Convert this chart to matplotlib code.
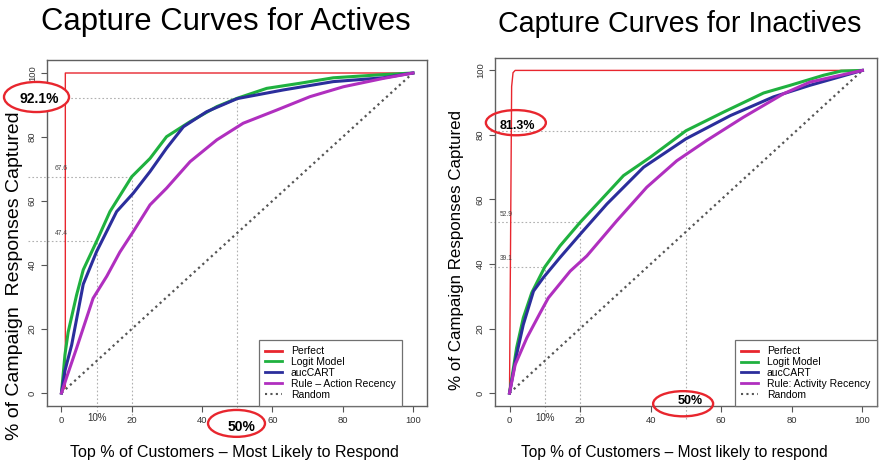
import matplotlib
matplotlib.use("Agg")
import matplotlib.pyplot as plt
from matplotlib.lines import Line2D
from matplotlib.patches import Ellipse

plt.rcParams["font.family"] = ["Liberation Sans", "DejaVu Sans"]

# ---- Actives: cumulative % of responses captured vs % of customers contacted
act_perfect_x = [0, 1.1, 1.1, 100]
act_perfect_y = [0, 2, 100, 100]
act_logit_x = [0, 1, 1.9, 4.3, 6.2, 10, 13.8, 20, 25.2, 29.9, 36.6, 44.2, 50, 58.4, 67.9, 77.3, 91.5, 100]
act_logit_y = [0, 12, 19, 30.6, 38.5, 47.4, 56.7, 67.6, 73.3, 80.1, 84.8, 89.5, 92.1, 95.2, 96.8, 98.5, 99.5, 100]
act_cart_x = [0, 1, 2.9, 6.2, 10, 15.7, 20.4, 25.2, 29.9, 34.7, 41.3, 50, 63.1, 77.3, 91.5, 100]
act_cart_y = [0, 7, 15, 34, 44.2, 56.7, 62.4, 69.2, 76.5, 83.2, 87.9, 92, 94.7, 97.3, 98.5, 100]
act_rule_x = [0, 1.5, 4.3, 9, 12.9, 16.6, 20.4, 25.2, 29.9, 36.6, 44.2, 51.7, 61.2, 70.7, 80.2, 91.5, 100]
act_rule_y = [0, 5, 14, 29.6, 36.5, 44, 50.4, 58.8, 64, 72.3, 79.1, 84.3, 88.4, 92.6, 95.7, 98.3, 100]
act_cut_x = [10, 20, 50]
act_cut_y = [47.4, 67.6, 92.1]

# ---- Inactives
ina_perfect_x = [0, 0.6, 1.0, 1.6, 100]
ina_perfect_y = [0, 95, 99.3, 100, 100]
ina_logit_x = [0, 2, 3.9, 6.3, 10, 14.3, 20, 25.7, 32.3, 39.9, 50, 60.7, 72, 79.6, 89, 94, 100]
ina_logit_y = [0, 14, 23.3, 31.1, 39.1, 45.6, 52.9, 59.6, 67.4, 73.1, 81.3, 87.1, 93, 95.4, 98.5, 99.8, 100]
ina_cart_x = [0, 2, 3.9, 6.8, 9.6, 14.3, 20, 27.6, 38, 50, 62.6, 74.8, 85.2, 100]
ina_cart_y = [0, 11.9, 21.2, 31.6, 35.8, 42, 49.2, 58.6, 70, 78.8, 86, 91.8, 95.4, 100]
ina_rule_x = [0, 1.6, 4.9, 8.7, 11, 17.2, 21.9, 30.4, 38.9, 47.4, 55.9, 66.3, 77.7, 85.2, 100]
ina_rule_y = [0, 8.8, 17.1, 24.9, 29.5, 37.8, 42.5, 53.4, 63.8, 72, 78.3, 85.5, 92.8, 96.4, 100]
ina_cut_x = [10, 20, 50]
ina_cut_y = [39.1, 52.9, 81.3]

random_xy = [0, 100]
ticks = [0, 20, 40, 60, 80, 100]

RED = "#e8262e"
GREEN = "#1fb13f"
BLUE = "#2b2e9c"
MAGENTA = "#b02fbf"
GUIDE = "#b0b0b0"

W, H = 880, 462
fig = plt.figure(figsize=(8.8, 4.62), dpi=100)


def px_rect(x0, y0, x1, y1):
    return [x0 / W, 1 - y1 / H, (x1 - x0) / W, (y1 - y0) / H]


def panel(rect, curves, labels, cuts, guide_left, ylab, ylab_size, ylab_xy, title, title_size, title_xy,
          xlab, xlab_size, xlab_xy, legend_anchor):
    ax = fig.add_axes(rect)
    ax.set_xlim(-4, 104)
    ax.set_ylim(-4, 104)
    (px, py), (lx, ly), (cx, cy), (rx, ry) = curves
    ax.plot(px, py, color=RED, lw=1.0, zorder=3)
    ax.plot(lx, ly, color=GREEN, lw=2.2, zorder=4)
    ax.plot(cx, cy, color=BLUE, lw=2.2, zorder=4)
    ax.plot(rx, ry, color=MAGENTA, lw=2.2, zorder=4)
    ax.plot(random_xy, random_xy, color="#555555", lw=1.6, ls=(0, (1, 1.6)), zorder=3)

    # guide segments at 10%, 20% and 50% depth
    for gx, gy in zip(*cuts):
        ax.plot([gx, gx], [-8, gy], color=GUIDE, lw=0.8, ls=(0, (1.5, 2)), clip_on=False, zorder=1)
        ax.plot([guide_left, gx], [gy, gy], color=GUIDE, lw=0.8, ls=(0, (1.5, 2)), clip_on=False, zorder=1)

    ax.set_xticks(ticks)
    ax.set_yticks(ticks)
    ax.tick_params(direction="out", length=4.5, width=0.8, color="#555555", labelsize=6.8,
                   labelcolor="#333333", pad=3)
    for t in ax.get_yticklabels():
        t.set_rotation(90)
        t.set_va("center")
    for s in ax.spines.values():
        s.set_color("#606060")
        s.set_linewidth(1.0)

    handles = [
        Line2D([], [], color=RED, lw=2),
        Line2D([], [], color=GREEN, lw=2),
        Line2D([], [], color=BLUE, lw=2),
        Line2D([], [], color=MAGENTA, lw=2),
        Line2D([], [], color="#555555", lw=1.5, ls=(0, (1, 1.6))),
    ]
    leg = ax.legend(handles, labels, loc="lower right", bbox_to_anchor=legend_anchor, fontsize=7.5,
                    frameon=True, fancybox=False, edgecolor="#707070", framealpha=1,
                    handlelength=1.6, handletextpad=0.9, labelspacing=0.08, borderpad=0.6,
                    borderaxespad=0)
    leg.get_frame().set_linewidth(0.9)
    leg.set_zorder(5)

    fig.text(title_xy[0] / W, 1 - title_xy[1] / H, title, fontsize=title_size, ha="center", va="center")
    fig.text(ylab_xy[0] / W, 1 - ylab_xy[1] / H, ylab, fontsize=ylab_size, rotation=90,
             ha="center", va="center")
    fig.text(xlab_xy[0] / W, 1 - xlab_xy[1] / H, xlab, fontsize=xlab_size, ha="center", va="center")
    return ax


def mark(ax, center, size, text, text_xy, fontsize, fill):
    ax.add_patch(Ellipse(center, size[0], size[1], facecolor="white" if fill else "none",
                         edgecolor=RED, lw=1.7, clip_on=False, zorder=6))
    ax.text(text_xy[0], text_xy[1], text, fontsize=fontsize, fontweight="bold", ha="center",
            va="center", clip_on=False, zorder=7)


ax1 = panel(
    px_rect(47.4, 60.2, 427, 405.8),
    [(act_perfect_x, act_perfect_y), (act_logit_x, act_logit_y), (act_cart_x, act_cart_y),
     (act_rule_x, act_rule_y)],
    ["Perfect", "Logit Model", "aucCART", "Rule \u2013 Action Recency", "Random"],
    (act_cut_x, act_cut_y), -9.5,
    "% of Campaign  Responses Captured", 14, (15, 276),
    "Capture Curves for Actives", 22.3, (226, 22),
    "Top % of Customers \u2013 Most Likely to Respond", 11.5, (234, 452),
    (0.934, 0.0),
)
ax2 = panel(
    px_rect(495.4, 57.5, 876.5, 406),
    [(ina_perfect_x, ina_perfect_y), (ina_logit_x, ina_logit_y), (ina_cart_x, ina_cart_y),
     (ina_rule_x, ina_rule_y)],
    ["Perfect", "Logit Model", "aucCART", "Rule: Activity Recency", "Random"],
    (ina_cut_x, ina_cut_y), -5.5,
    "% of Campaign Responses Captured", 12.2, (456, 250),
    "Capture Curves for Inactives", 20.6, (680, 24),
    "Top % of Customers \u2013 Most likely to respond", 11.2, (674, 452),
    (1.0, 0.0),
)

# small value tags on the guide lines
for gx, gy in zip(act_cut_x[:2], act_cut_y[:2]):
    ax1.text(0, gy + 1.4, f"{gy:.1f}", fontsize=4.8, color="#444444", ha="center", va="bottom")
for gx, gy in zip(ina_cut_x[:2], ina_cut_y[:2]):
    ax2.text(-1, gy + 1.4, f"{gy:.1f}", fontsize=4.8, color="#444444", ha="center", va="bottom")

ax1.text(10, -6.3, "10%", fontsize=7, color="#333333", ha="center", va="top", clip_on=False)
ax2.text(10, -6.3, "10%", fontsize=7, color="#333333", ha="center", va="top", clip_on=False)

mark(ax1, (-7.1, 92.5), (18.5, 9.4), f"{act_cut_y[2]}%", (-6.3, 91.9), 10, True)
mark(ax1, (49.8, -9.5), (16.2, 8.4), "50%", (51.1, -10.5), 10, True)
mark(ax2, (1.8, 83.8), (17, 7.8), f"{ina_cut_y[2]}%", (2.1, 82.8), 9, False)
mark(ax2, (49.2, -3.3), (17, 7.8), "50%", (51.2, -2.4), 9, False)

fig.savefig("out.png", dpi=100)
